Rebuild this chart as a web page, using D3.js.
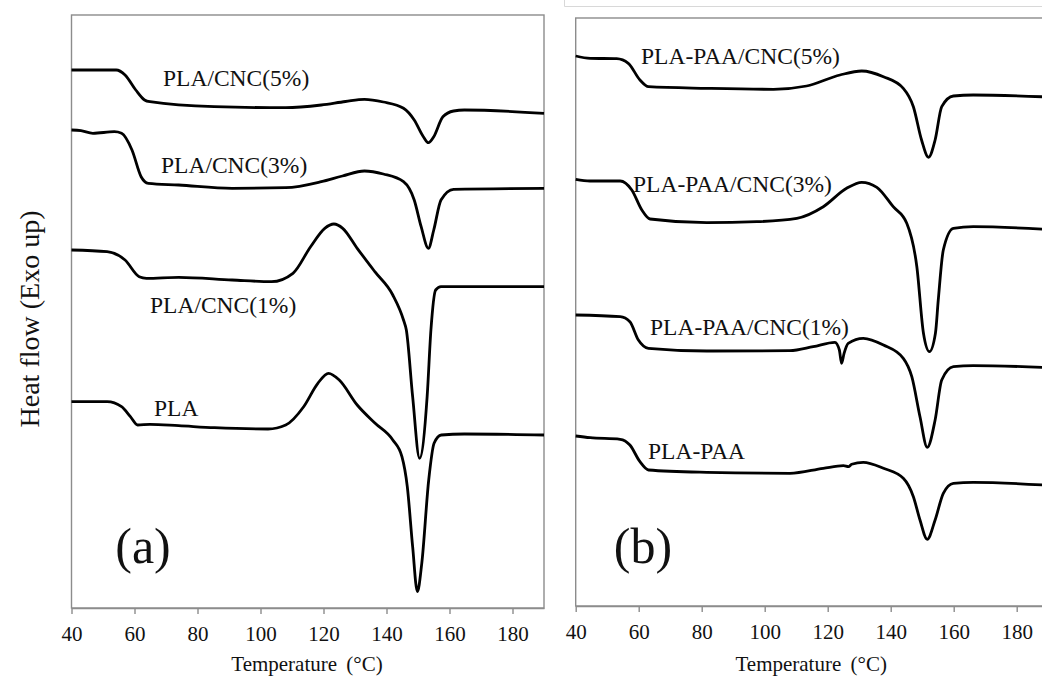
<!DOCTYPE html>
<html>
<head>
<meta charset="utf-8">
<script src="https://cdn.jsdelivr.net/npm/d3@7"></script>
<style>
  body { margin: 0; background: #fff; }
  text { font-family: "Liberation Serif", "Times New Roman", serif; fill: #111; }
</style>
</head>
<body>
<div id="chart"></div>
<script>
// temperature ticks (°C)
const tempTicks = [40, 60, 80, 100, 120, 140, 160, 180]

// panel (a) curves: [temperature, heat flow (a.u.)]
const pla_cnc5 = [[40,538],[54.2,538],[57,533],[60.4,518],[63.2,508],[64.9,506.3],[85.3,501.3],[108,500.3],[119.3,503],[127,506.5],[133,508.7],[139,506],[145.4,499.7],[148.8,488],[151.7,471.3],[153.3,465.3],[155,471.3],[157.9,491.3],[161.3,497],[164.7,498],[190,494.7]]
const pla_cnc3 = [[40,478],[43,477.3],[46.8,474.7],[53.6,476.3],[55.9,474.7],[59.2,458],[62.1,431.3],[64.4,424.7],[74,423],[91,419.7],[108,420.3],[119.3,426.3],[126,432],[133,437],[139,434],[145.4,426.3],[148.8,408],[151,381.3],[153.3,359.7],[155,378],[157.3,408],[161.3,418.7],[190,419.7]]
const pla_cnc1 = [[40,358],[51.3,356.3],[57,348],[61.5,331.3],[63.8,329.7],[74,330.7],[91,328],[103.5,326.3],[110.3,334.7],[115.9,361.3],[120.4,379.7],[123.3,384],[126.1,379.7],[130.7,359.7],[136.3,336.3],[142,313],[145.4,288],[146.3,278],[148.3,211.3],[150.5,149.7],[152.9,211.3],[154.1,278],[155.6,318],[157.3,321.3],[190,321.3]]
const pla = [[40,206.3],[51.3,206.3],[55.9,201.3],[58.7,191.3],[61,183],[64.9,183.7],[74,182.3],[85.4,180.3],[102.4,179],[108,183],[113.7,201.3],[118.2,224.7],[121.6,234.7],[125,228],[130.7,203],[136.4,184.7],[142,168],[144.9,151.3],[146.6,121.3],[148.3,61.3],[149.8,16.3],[151.2,44.7],[153.4,128],[155.1,164.7],[157.4,173],[164.7,174],[190,173]]

// panel (b) curves
const plapaa_cnc5 = [[40,550],[44.6,547.7],[53,547.3],[56.7,542.7],[60.4,526],[63.1,519.3],[81.6,517.7],[102.8,516.7],[113.3,520],[123.9,531],[130.8,535],[137.7,529.3],[144,517.7],[147.2,499.3],[149.8,466],[152,448.7],[154.1,466],[156.2,499.3],[159.9,510],[166.2,511],[190,509]]
const plapaa_cnc3 = [[40,426.7],[44.5,425],[54.1,425],[57.8,416],[61,396],[63.6,387],[81.6,383.3],[97.5,384.3],[110.2,387.7],[118.6,399.3],[126,417.7],[130.8,423.7],[135.6,418.7],[140.8,399.3],[145.1,382.7],[148.3,339.3],[150.4,272.7],[152.3,254.3],[154.2,272.7],[155.1,306],[156.7,356],[159.9,377.7],[166.2,379.3],[190,376.5]]
const plapaa_cnc1 = [[40,291],[54.1,289.3],[57.2,284.3],[59.9,266],[63.1,257.7],[81.6,255],[108,255.3],[115.4,259.3],[122.3,263.7],[123.7,256],[124.4,242.7],[125.2,252.7],[126.5,262.7],[131.3,267.7],[137.7,261],[144,247.7],[146.7,229.3],[149.3,189.3],[151.6,158.7],[154.1,186],[156.2,226],[159.9,239.3],[166.2,240.3],[190,238.5]]
const plapaa = [[40,170],[44.6,168.3],[54.1,166.7],[57.2,161],[60.4,144.3],[63.1,136],[81.6,133.7],[108,132.7],[118.6,137.7],[125,140.3],[126.6,139.3],[127.6,141.7],[131.3,143.7],[137.7,137.7],[144,127.7],[147.2,109.3],[149.3,86],[151.6,66.7],[154.1,86],[156.7,112.7],[159.9,122.7],[166.2,123.7],[190,120.7]]

const namesA = ['PLA/CNC(5%)', 'PLA/CNC(3%)', 'PLA/CNC(1%)', 'PLA']
const namesB = ['PLA-PAA/CNC(5%)', 'PLA-PAA/CNC(3%)', 'PLA-PAA/CNC(1%)', 'PLA-PAA']

const serif = '"Liberation Serif", "Times New Roman", serif'

let svg = d3.select('#chart').append('svg')
  .attr('width', 1042).attr('height', 677)
  .style('background', '#fff')

// outer border of the right picture
svg.append('path').attr('d', 'M564.5,0 V6.5 H1042')
  .attr('fill', 'none').attr('stroke', '#d8d8d8').attr('stroke-width', 1)

function panel(cfg) {
  let x = d3.scaleLinear().domain([40, 190]).range([cfg.left, cfg.right])
  let y = d3.scaleLinear().domain([0, cfg.ymax]).range([cfg.bottom, cfg.top])
  let g = svg.append('g')

  // plot frame
  g.append('rect')
    .attr('x', cfg.left).attr('y', cfg.top)
    .attr('width', cfg.right - cfg.left).attr('height', cfg.bottom - cfg.top)
    .attr('fill', 'none').attr('stroke', '#8c8c8c').attr('stroke-width', 1.4)

  let ax = g.append('g')
    .attr('transform', 'translate(0,' + cfg.bottom + ')')
    .call(d3.axisBottom(x).tickValues(tempTicks).tickSize(6).tickPadding(12).tickSizeOuter(0))
  ax.attr('font-family', serif).attr('font-size', 21)
  ax.select('.domain').attr('stroke', '#8c8c8c').attr('stroke-width', 1.4)
  ax.selectAll('.tick line').attr('stroke', '#8c8c8c').attr('stroke-width', 1.4)
  ax.selectAll('.tick text')
    .style('font-family', serif)
    .style('font-size', '21px').attr('fill', '#111')

  g.append('text')
    .attr('x', x(110) + 15).attr('y', 671)
    .attr('text-anchor', 'middle')
    .style('font-family', serif)
    .style('font-size', '21px')
    .style('word-spacing', '4px')
    .text('Temperature (°C)')

  let line = d3.line()
    .x(d => x(d[0])).y(d => y(d[1]))
    .curve(d3.curveMonotoneX)

  g.selectAll('path.curve')
    .data(cfg.series)
    .enter().append('path')
    .attr('class', 'curve')
    .attr('d', line)
    .attr('fill', 'none')
    .attr('stroke', '#000')
    .attr('stroke-width', 2.8)
    .attr('stroke-linejoin', 'round')

  g.selectAll('text.lbl')
    .data(cfg.labels)
    .enter().append('text')
    .attr('class', 'lbl')
    .attr('x', d => d.x).attr('y', d => d.y)
    .style('font-family', serif)
    .style('font-size', '23.5px')
    .text(d => d.name)

  g.append('text')
    .attr('x', cfg.tag.x).attr('y', 563)
    .attr('text-anchor', 'middle')
    .style('font-family', serif)
    .style('font-size', '50px')
    .text(cfg.tag.text)
}

panel({
  left: 71.5, right: 544, top: 15, bottom: 608, ymax: 593,
  series: [pla_cnc5, pla_cnc3, pla_cnc1, pla],
  labels: [
    {name: namesA[0], x: 163, y: 86},
    {name: namesA[1], x: 161, y: 173},
    {name: namesA[2], x: 150, y: 313},
    {name: namesA[3], x: 154, y: 416}
  ],
  tag: {text: '(a)', x: 143}
})

panel({
  left: 575.7, right: 1048.2, top: 18, bottom: 606, ymax: 588,
  series: [plapaa_cnc5, plapaa_cnc3, plapaa_cnc1, plapaa],
  labels: [
    {name: namesB[0], x: 641, y: 64},
    {name: namesB[1], x: 633, y: 192},
    {name: namesB[2], x: 650, y: 335},
    {name: namesB[3], x: 648, y: 459}
  ],
  tag: {text: '(b)', x: 643}
})

svg.append('text')
  .attr('transform', 'translate(39,319) rotate(-90)')
  .attr('text-anchor', 'middle')
  .style('font-family', serif)
  .style('font-size', '28px')
  .text('Heat flow (Exo up)')
</script>
</body>
</html>
